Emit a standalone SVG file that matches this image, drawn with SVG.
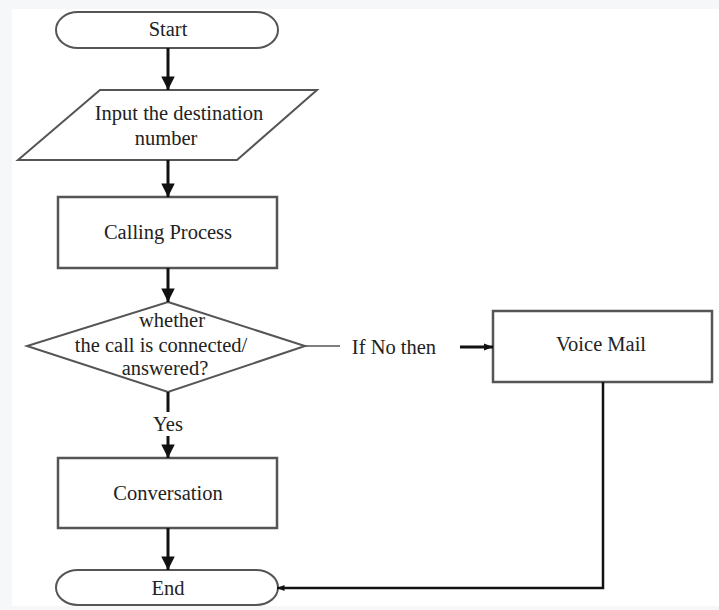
<svg xmlns="http://www.w3.org/2000/svg" width="719" height="610" viewBox="0 0 719 610">
<defs>
<marker id="ah" viewBox="0 0 10 10" refX="10" refY="5" markerWidth="5" markerHeight="4.5" markerUnits="strokeWidth" orient="auto">
<path d="M0,0 L10,5 L0,10 Z" fill="#111"/>
</marker>
<marker id="ahn" viewBox="0 0 10 10" refX="10" refY="5" markerWidth="7" markerHeight="3" markerUnits="strokeWidth" orient="auto">
<path d="M0,1 L10,5 L0,9 Z" fill="#111"/>
</marker>
</defs>
<style>
.shape{fill:#fff;stroke:#555;stroke-width:2}
.box{fill:#fff;stroke:#555;stroke-width:2.5}
.t{font-family:"Liberation Serif","Times New Roman",serif;font-size:20.5px;fill:#222;text-anchor:middle}
.flow{fill:none;stroke:#111;stroke-width:3}
.thin{fill:none;stroke:#555;stroke-width:1.6}
</style>
<rect x="0" y="0" width="719" height="610" fill="#f6f7f8"/>
<rect x="12" y="9" width="707" height="597" fill="#fff"/>

<g id="start">
<path class="shape" d="M78,12 H256 A22,18 0 0 1 256,48 H78 A22,18 0 0 1 78,12 Z"/>
<text class="t" x="168" y="36">Start</text>
</g>
<g id="input">
<polygon class="shape" points="100,90 317,90 237,160 18,160"/>
<text class="t" x="179" y="120">Input the destination</text>
<text class="t" x="166" y="145">number</text>
</g>
<g id="calling">
<rect class="box" x="58" y="197" width="219" height="71"/>
<text class="t" x="168" y="239">Calling Process</text>
</g>
<g id="decision">
<polygon class="shape" points="168,302 305,346 168,392 27,346"/>
<text class="t" x="172" y="327">whether</text>
<text class="t" x="161" y="352">the call is connected/</text>
<text class="t" x="165" y="375">answered?</text>
</g>
<g id="voicemail">
<rect class="box" x="493" y="311" width="219" height="71"/>
<text class="t" x="601" y="351">Voice Mail</text>
</g>
<g id="conversation">
<rect class="box" x="58" y="458" width="219" height="70"/>
<text class="t" x="168" y="500">Conversation</text>
</g>
<g id="end">
<path class="shape" d="M78,570 H256 A22,17.5 0 0 1 256,605 H78 A22,17.5 0 0 1 78,570 Z"/>
<text class="t" x="168" y="595">End</text>
</g>

<g id="connectors">
<line class="flow" x1="168" y1="48" x2="168" y2="90" marker-end="url(#ah)"/>
<line class="flow" x1="168" y1="160" x2="168" y2="197" marker-end="url(#ah)"/>
<line class="flow" x1="168" y1="268" x2="168" y2="302" marker-end="url(#ah)"/>
<line class="flow" x1="168" y1="392" x2="168" y2="412"/>
<line class="flow" x1="168" y1="436" x2="168" y2="458" marker-end="url(#ah)"/>
<line class="flow" x1="168" y1="528" x2="168" y2="570" marker-end="url(#ah)"/>
<line class="thin" x1="305" y1="346" x2="340" y2="346"/>
<text class="t" x="394" y="354">If No then</text>
<line class="flow" x1="460" y1="347" x2="493" y2="347" marker-end="url(#ahn)"/>
<text class="t" x="168" y="431">Yes</text>
<polyline class="flow" points="603,382 603,588 277,588" style="stroke-width:2.5" marker-end="url(#ahn)"/>
</g>
</svg>
